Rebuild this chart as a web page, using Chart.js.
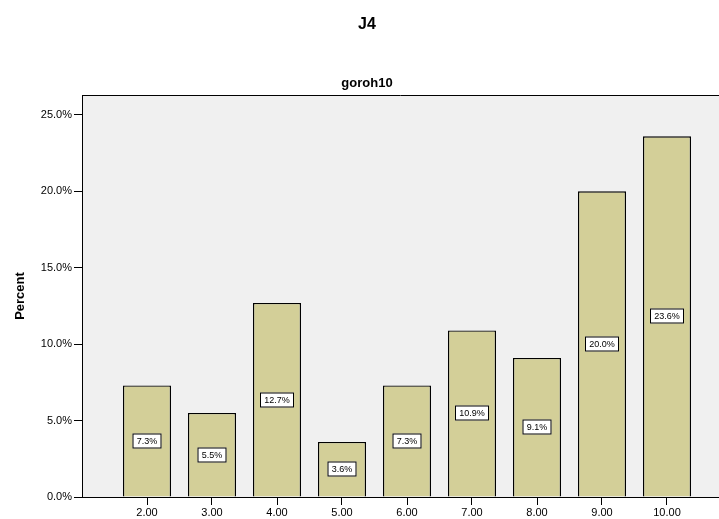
<!DOCTYPE html>
<html>
<head>
<meta charset="utf-8">
<script src="https://cdn.jsdelivr.net/npm/chart.js@4.4.1/dist/chart.umd.min.js"></script>
<style>
  body { margin: 0; background: #fff; }
  #wrap { width: 719px; height: 519px; }
</style>
</head>
<body>
<div id="wrap"><canvas id="chart" width="719" height="519"></canvas></div>
<script>
  // chart data
  const categories = [2, 3, 4, 5, 6, 7, 8, 9, 10];
  const tickLabels = ["2.00", "3.00", "4.00", "5.00", "6.00", "7.00", "8.00", "9.00", "10.00"];
  const percents = [7.3, 5.5, 12.7, 3.6, 7.3, 10.9, 9.1, 20.0, 23.6];
  const yTicks = [0, 5, 10, 15, 20, 25];

  const mainTitle = "J4";
  const subTitle = "goroh10";

  const font = "Arial, 'Liberation Sans', sans-serif";

  // grey plot background + top border line + titles
  const plotBg = {
    id: "plotBg",
    beforeDraw(chart) {
      const { ctx, chartArea: a } = chart;
      ctx.save();
      ctx.fillStyle = "#f0f0f0";
      ctx.fillRect(a.left, a.top, a.right - a.left, a.bottom - a.top);
      ctx.restore();
    },
    afterDraw(chart) {
      const { ctx, chartArea: a } = chart;
      ctx.save();
      ctx.strokeStyle = "#000";
      ctx.lineWidth = 1;
      ctx.beginPath();
      ctx.moveTo(a.left, a.top + 0.5);
      ctx.lineTo(a.right, a.top + 0.5);
      ctx.stroke();
      ctx.fillStyle = "#000";
      ctx.textAlign = "center";
      ctx.textBaseline = "middle";
      ctx.font = "bold 16px " + font;
      ctx.fillText(mainTitle, 367, 25);
      ctx.font = "bold 13px " + font;
      ctx.fillText(subTitle, 367, 83);
      ctx.restore();
    }
  };

  // boxed value labels in the middle of each bar
  const boxLabels = {
    id: "boxLabels",
    afterDatasetsDraw(chart) {
      const { ctx } = chart;
      const meta = chart.getDatasetMeta(0);
      ctx.save();
      ctx.font = "9px " + font;
      ctx.textAlign = "center";
      ctx.textBaseline = "middle";
      meta.data.forEach((bar, i) => {
        const txt = percents[i].toFixed(1) + "%";
        const cy = Math.round((bar.y + bar.base) / 2);
        const cx = Math.round(bar.x);
        const w = Math.round(ctx.measureText(txt).width) + 8;
        const h = 15;
        ctx.fillStyle = "#fff";
        ctx.fillRect(cx - w / 2, cy - h / 2, w, h);
        ctx.strokeStyle = "#000";
        ctx.lineWidth = 1;
        ctx.strokeRect(cx - w / 2 + 0.5, cy - h / 2 + 0.5, w - 1, h - 1);
        ctx.fillStyle = "#000";
        ctx.fillText(txt, cx, cy + 1);
      });
      ctx.restore();
    }
  };

  new Chart(document.getElementById("chart"), {
    type: "bar",
    data: {
      datasets: [{
        data: categories.map((c, i) => ({ x: c, y: percents[i] })),
        backgroundColor: "#d3cf98",
        borderColor: "#000",
        borderWidth: 1.4,
        barPercentage: 0.74,
        categoryPercentage: 1
      }]
    },
    options: {
      responsive: false,
      animation: false,
      layout: { padding: { top: 95, right: 0, left: 0, bottom: 0 } },
      plugins: {
        legend: { display: false },
        tooltip: { enabled: false }
      },
      scales: {
        x: {
          type: "linear",
          offset: false,
          min: 1,
          max: 10.8,
          afterBuildTicks(scale) {
            scale.ticks = categories.map(v => ({ value: v }));
          },
          afterFit(scale) { scale.height = 22; },
          ticks: {
            callback: (v) => tickLabels[categories.indexOf(v)],
            font: { family: font, size: 11 },
            color: "#000",
            padding: 1,
            maxRotation: 0,
            autoSkip: false
          },
          grid: { offset: false, drawOnChartArea: false, tickLength: 8, color: "#000" },
          border: { display: true, color: "#000" }
        },
        y: {
          min: 0,
          max: 26.3,
          afterBuildTicks(scale) {
            scale.ticks = yTicks.map(v => ({ value: v }));
          },
          afterFit(scale) { scale.width = 82; },
          ticks: {
            callback: (v) => v.toFixed(1) + "%",
            font: { family: font, size: 11 },
            color: "#000",
            padding: 2
          },
          grid: { drawOnChartArea: false, tickLength: 8, color: "#000" },
          border: { display: true, color: "#000" },
          title: {
            display: true,
            text: "Percent",
            font: { family: font, size: 13, weight: "bold" },
            color: "#000",
            padding: { top: 13, bottom: 0 }
          }
        }
      }
    },
    plugins: [plotBg, boxLabels]
  });
</script>
</body>
</html>
